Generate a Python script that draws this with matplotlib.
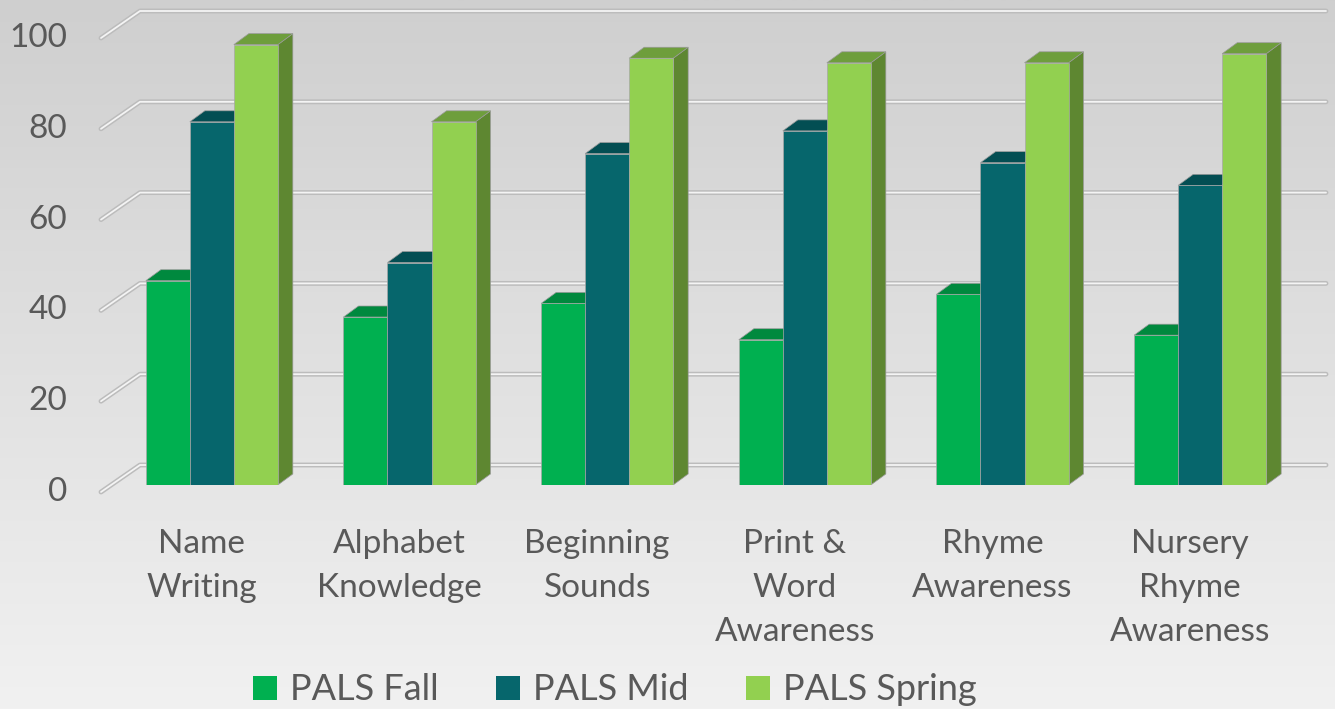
import numpy as np
import matplotlib
matplotlib.use('Agg')
import matplotlib.pyplot as plt
from matplotlib.patches import Polygon, Patch
from matplotlib.transforms import offset_copy

categories = ['Name\nWriting', 'Alphabet\nKnowledge', 'Beginning\nSounds',
              'Print &\nWord\nAwareness', 'Rhyme\nAwareness', 'Nursery\nRhyme\nAwareness']
series_names = ['PALS Fall', 'PALS Mid', 'PALS Spring']
pals_fall = [45, 37, 40, 32, 42, 33]
pals_mid = [80, 49, 73, 78, 71, 66]
pals_spring = [97, 80, 94, 93, 93, 95]
y_ticks = [0, 20, 40, 60, 80, 100]

front_colors = ['#00B050', '#06666C', '#92D050']
top_colors = ['#00893E', '#034E53', '#6E9E3C']
side_colors = ['#007A37', '#03464A', '#5E8731']
text_color = '#595959'

plt.rcParams['font.family'] = ['Lato', 'DejaVu Sans']

W, H = 1335, 709
fig = plt.figure(figsize=(W / 100, H / 100), dpi=100)

# gradient background
bg = fig.add_axes([0, 0, 1, 1])
grad = np.linspace(0, 1, 256).reshape(-1, 1)
bg.imshow(grad, cmap=matplotlib.colors.LinearSegmentedColormap.from_list(
    'bg', ['#cfcfcf', '#f1f1f1']), aspect='auto', extent=[0, 1, 0, 1])
bg.axis('off')

# main axes (the plane of the bar fronts)
left_px, right_px, top_px, bottom_px = 113, 1299, 31, 485
ax = fig.add_axes([left_px / W, (H - bottom_px) / H,
                   (right_px - left_px) / W, (bottom_px - top_px) / H])
ax.set_xlim(-0.5, 5.5)
ax.set_ylim(0, 100)
ax.patch.set_alpha(0)
for s in ax.spines.values():
    s.set_visible(False)
ax.set_xticks([])
ax.set_yticks([])

xu = 6 / (right_px - left_px)      # data units per pixel
yu = 100 / (bottom_px - top_px)

back_dx, back_dy = 27 * xu, 20 * yu
front_dx, front_dy = -12 * xu, -7 * yu
depth_dx, depth_dy = 15 * xu, 11 * yu

# back wall gridlines + slanted floor/side ticks
for v in y_ticks:
    xs = [-0.5 + front_dx, -0.5 + back_dx, 5.5 + back_dx]
    ys = [v + front_dy, v + back_dy, v + back_dy]
    ax.plot(xs, ys, color='#bcbcbc', lw=3.5, solid_capstyle='round',
            clip_on=False, zorder=0)
    ax.plot(xs, ys, color='#f4f4f4', lw=1.3, solid_capstyle='round',
            clip_on=False, zorder=0.5)

# 3d bars
bar_w = 0.2226
data = [pals_fall, pals_mid, pals_spring]
x = np.arange(len(categories))
z = 1
for i in range(len(categories)):
    for k in range(3):
        x0 = x[i] + (k - 1.5) * bar_w
        h = data[k][i]
        side = Polygon([(x0 + bar_w, 0), (x0 + bar_w + depth_dx, depth_dy),
                        (x0 + bar_w + depth_dx, h + depth_dy), (x0 + bar_w, h)],
                       closed=True, facecolor=side_colors[k],
                       edgecolor='#9a9a9a', lw=0.5, zorder=z)
        top = Polygon([(x0, h), (x0 + depth_dx, h + depth_dy),
                       (x0 + bar_w + depth_dx, h + depth_dy), (x0 + bar_w, h)],
                      closed=True, facecolor=top_colors[k],
                      edgecolor='#9a9a9a', lw=0.5, zorder=z)
        ax.add_patch(side)
        ax.add_patch(top)
        ax.bar(x0, h, width=bar_w, align='edge', color=front_colors[k],
               edgecolor='#a8a8a8', linewidth=0.5, zorder=z + 0.5)
        z += 1

# y labels on the front plane
ytrans = offset_copy(ax.transData, fig=fig, x=-46, y=-7, units='dots')
for v in y_ticks:
    ax.text(-0.5, v, str(v), transform=ytrans, ha='right', va='center',
            fontsize=24, color=text_color)

# category labels
xtrans = offset_copy(ax.transData, fig=fig, x=-10, y=-44, units='dots')
for i, lab in enumerate(categories):
    ax.text(x[i], 0, lab, transform=xtrans, ha='center', va='top',
            fontsize=24, color=text_color, linespacing=1.58,
            multialignment='center')

handles = [Patch(facecolor=c, edgecolor='none') for c in front_colors]
leg = fig.legend(handles, series_names, loc='center', ncol=3,
                 bbox_to_anchor=(615 / W, (H - 690) / H), frameon=False,
                 fontsize=26, handlelength=0.67, handleheight=0.67,
                 handletextpad=0.36, columnspacing=1.58, labelcolor=text_color)

fig.savefig('out.png', dpi=100)
